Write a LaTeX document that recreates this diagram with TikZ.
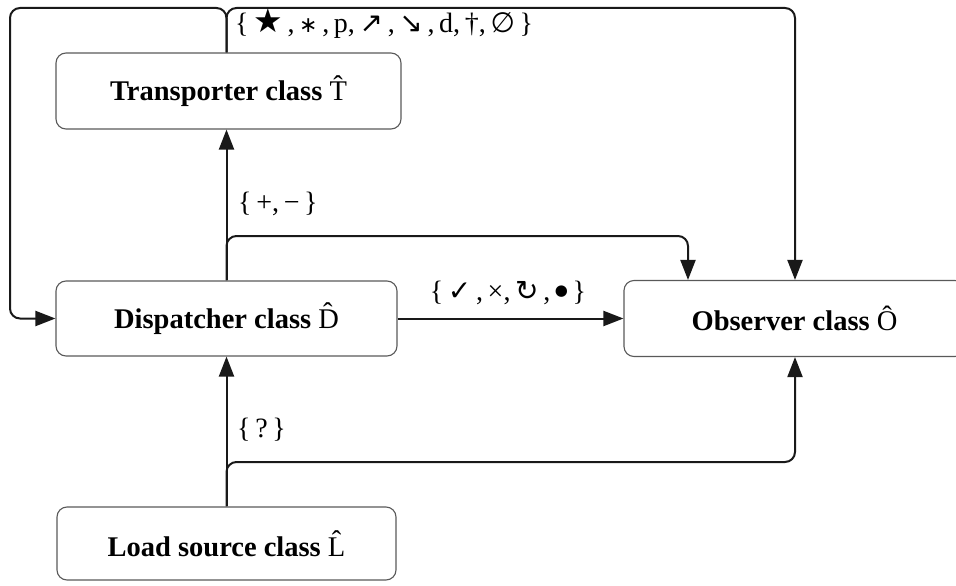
\documentclass[tikz,border=0pt]{standalone}
\usepackage{fontspec}
\setmainfont{Liberation Serif}
\newfontfamily\symfont{DejaVu Sans}
\usetikzlibrary{arrows.meta}
\newcommand\symb[1]{{\symfont #1}}
\newcommand\symbsized[2]{{\symfont\fontsize{#1}{#1}\selectfont #2}}
\begin{document}
\begin{tikzpicture}[x=1pt,y=-1pt,
  box/.style={draw=black!65, line width=1.1pt, rounded corners=10pt,
    minimum width=341pt, minimum height=75pt, inner sep=0pt,
    font=\fontsize{28.5}{32}\selectfont},
  link/.style={line width=2pt, draw=black!90, rounded corners=10pt,
    -{Triangle[length=20pt,width=15pt]}},
  lbl/.style={font=\fontsize{28}{32}\selectfont, inner sep=0pt, anchor=west}]
\useasboundingbox (0,0) rectangle (956,586);
\begin{scope}
\clip (0,0) rectangle (956,586);
% class boxes
\node[box, minimum width=345pt, minimum height=76pt] (T) at (228.5,91)
  {\textbf{Transporter class} \^{T}};
\node[box] (D) at (226.5,318.5) {\textbf{Dispatcher class} \^{D}};
\node[box, minimum height=76pt] (O) at (794.5,318.5) {\textbf{Observer class} \^{O}};
\node[box, minimum width=339pt, minimum height=73pt] (L) at (226.5,543.5)
  {\textbf{Load source class} \^{L}};
% bend points of the connectors
\coordinate (tl) at (10,8);
\coordinate (tr) at (795,8);
\coordinate (db) at (688,236);
\coordinate (lb) at (795,462);
% connectors
\draw[link] (L.north) -- (D.south);
\draw[link] (L.north) |- (lb) -- (lb |- O.south);
\draw[link] (D.north) -- (T.south -| D.north);
\draw[link] (D.north) |- (db) -- (db |- O.north);
\draw[link] (T.north -| D.north) |- (tr) -- (tr |- O.north);
\draw[link] (T.north -| D.north) |- (tl) |- (D.west);
\draw[link] (D.east) -- (O.west);
% labels
\node[lbl] (lt) at (235,24) {\{\,\symbsized{33}{★}\,,\,\symbsized{22}{∗}\,,\,p,\,\symb{↗}\,,\,\symb{↘}\,,\,d,\,†,\,\symb{∅}\,\}};
\node[lbl] (ld) at (238,204) {\{\,+,\,−\,\}};
\node[lbl] (ll) at (237,430) {\{\,?\,\}};
\node[lbl, anchor=center] (lo) at (508,293) {\{\,\symb{✓}\,,\,×,\,\symb{↻}\,,\,\raisebox{5pt}{\symbsized{15}{●}}\,\}};
\end{scope}
\end{tikzpicture}
\end{document}
